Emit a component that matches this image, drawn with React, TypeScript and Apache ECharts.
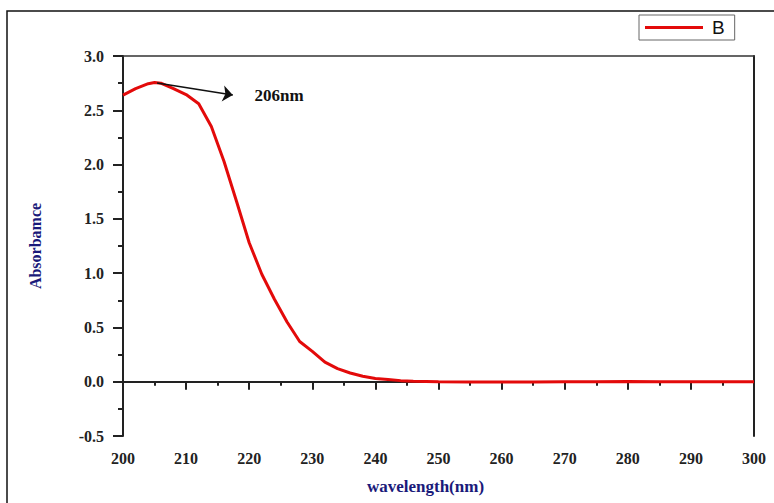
import React, { useEffect, useRef } from "react";
import * as echarts from "echarts";

const wavelengths = [200, 202, 204, 205, 206, 208, 210, 212, 214, 216, 218, 220, 222, 224, 226, 228, 230, 232, 234, 236, 238, 240, 242, 244, 246, 250, 255, 260, 265, 270, 275, 280, 285, 290, 295, 300];
const absorbance = [2.64, 2.70, 2.745, 2.755, 2.75, 2.70, 2.645, 2.56, 2.35, 2.03, 1.66, 1.28, 0.99, 0.76, 0.55, 0.37, 0.28, 0.18, 0.12, 0.08, 0.05, 0.03, 0.02, 0.01, 0.005, 0.0, -0.003, -0.003, -0.002, -0.001, 0.0, 0.001, 0.0, 0.0, 0.0, 0.0];
const peakLabel = "206nm";
const arrowStart = [205.4, 2.752];
const arrowEnd = [217.4, 2.64];
const seriesName = "B";

export default function App() {
  const ref = useRef<HTMLDivElement>(null);
  useEffect(() => {
    const chart = echarts.init(ref.current!, null, { renderer: "svg" });
    const tickFont = {
      fontFamily: "Liberation Serif",
      fontWeight: "bold" as const,
      fontSize: 16,
      color: "#222",
    };
    chart.setOption({
      animation: false,
      backgroundColor: "#fff",
      grid: { left: 123, right: 20, top: 56, bottom: 67, show: false },
      legend: {
        left: 639,
        top: 15,
        data: [seriesName],
        borderColor: "#666",
        borderWidth: 1,
        padding: [3, 10, 3, 6],
        itemWidth: 58,
        itemHeight: 3,
        icon: "rect",
        itemGap: 0,
        textStyle: { fontFamily: "Liberation Sans", fontSize: 19, color: "#111", padding: [0, 0, 0, 4] },
      },
      graphic: [
        {
          type: "rect",
          shape: { x: 7, y: 11, width: 900, height: 700 },
          style: { fill: "none", stroke: "#111", lineWidth: 1.5 },
          silent: true,
        },
      ],
      xAxis: [
        {
          type: "value",
          min: 200,
          max: 300,
          interval: 10,
          name: "wavelength(nm)",
          nameLocation: "middle",
          nameGap: 42,
          nameTextStyle: { fontFamily: "Liberation Serif", fontWeight: "bold", fontSize: 17, color: "#1a1a7a", padding: [0, 26, 0, 0] },
          axisLine: { show: true, lineStyle: { color: "#222", width: 2 } },
          axisTick: { show: true, inside: false, length: 8, lineStyle: { color: "#222", width: 2 } },
          minorTick: { show: true, splitNumber: 2, length: 4, lineStyle: { color: "#222", width: 2 } },
          axisLabel: { ...tickFont, margin: 14 },
          splitLine: { show: false },
        },
        {
          type: "value",
          position: "top",
          min: 200,
          max: 300,
          axisLine: { show: true, onZero: false, lineStyle: { color: "#333", width: 1.5 } },
          axisTick: { show: false },
          axisLabel: { show: false },
          splitLine: { show: false },
        },
      ],
      yAxis: [
        {
          type: "value",
          min: -0.5,
          max: 3.0,
          interval: 0.5,
          name: "Absorbamce",
          nameLocation: "middle",
          nameGap: 80,
          nameTextStyle: { fontFamily: "Liberation Serif", fontWeight: "bold", fontSize: 16, color: "#1a1a7a" },
          axisLine: { show: true, onZero: false, lineStyle: { color: "#222", width: 2 } },
          axisTick: { show: true, inside: false, length: 10, lineStyle: { color: "#222", width: 2 } },
          minorTick: { show: true, splitNumber: 2, length: 5, lineStyle: { color: "#222", width: 2 } },
          axisLabel: {
            ...tickFont,
            margin: 19,
            formatter: (v: number) => v.toFixed(1),
          },
          splitLine: { show: false },
        },
        {
          type: "value",
          position: "right",
          min: -0.5,
          max: 3.0,
          axisLine: { show: true, onZero: false, lineStyle: { color: "#222", width: 2 } },
          axisTick: { show: false },
          axisLabel: { show: false },
          splitLine: { show: false },
        },
      ],
      series: [
        {
          name: seriesName,
          type: "line",
          data: wavelengths.map((w, i) => [w, absorbance[i]]),
          showSymbol: false,
          symbol: "none",
          lineStyle: { color: "#e30a0a", width: 3 },
          itemStyle: { color: "#e30a0a" },
          markLine: {
            silent: true,
            symbol: ["none", "arrow"],
            symbolSize: [12, 10],
            lineStyle: { color: "#111", width: 1.5, type: "solid" },
            label: {
              show: true,
              position: "end",
              distance: [22, 3],
              formatter: peakLabel,
              fontFamily: "Liberation Serif",
              fontWeight: "bold",
              fontSize: 17,
              color: "#111",
            },
            data: [[{ coord: arrowStart }, { coord: arrowEnd }]],
          },
        },
      ],
    });
    return () => chart.dispose();
  }, []);
  return <div ref={ref} style={{ width: 774, height: 503, position: "absolute", left: 0, top: 0 }} />;
}
